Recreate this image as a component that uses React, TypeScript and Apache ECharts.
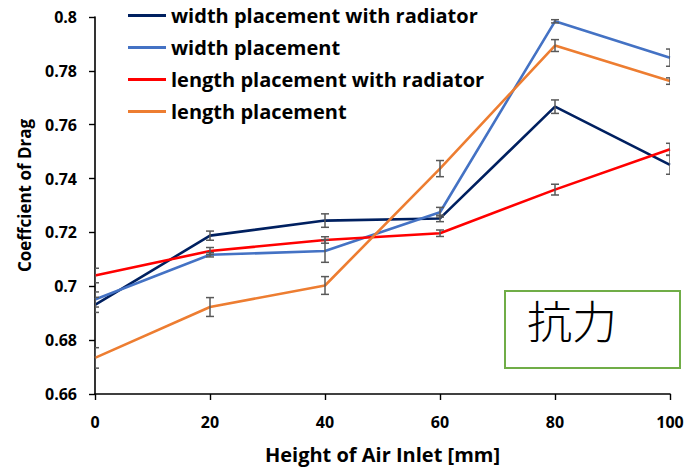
import React, { useEffect, useRef } from "react";
import * as echarts from "echarts";

const xValues = [0, 20, 40, 60, 80, 100];
const seriesNames = [
  "width placement with radiator",
  "width placement",
  "length placement with radiator",
  "length placement",
];
const widthRadiator = [0.6931, 0.7188, 0.7244, 0.7252, 0.7667, 0.7451];
const widthPlain = [0.6951, 0.7117, 0.7131, 0.7275, 0.7984, 0.7849];
const lengthRadiator = [0.704, 0.7131, 0.7172, 0.7197, 0.7359, 0.7509];
const lengthPlain = [0.6734, 0.6923, 0.7003, 0.7437, 0.7894, 0.7762];
const widthRadiatorErr = [0.0028, 0.0017, 0.0025, 0.0012, 0.0025, 0.0035];
const widthPlainErr = [0.0028, 0.0008, 0.0042, 0.0018, 0.0006, 0.0032];
const lengthRadiatorErr = [0.0027, 0.0013, 0.0012, 0.0012, 0.002, 0.0022];
const lengthPlainErr = [0.0038, 0.0035, 0.0033, 0.003, 0.0022, 0.0012];
const colors = ["#002060", "#4472C4", "#FF0000", "#ED7D31"];
const yTicks = [0.66, 0.8, 0.02];
const annotation = "抗力";

const FONT = "'Open Sans', sans-serif";

export default function App() {
  const ref = useRef<HTMLDivElement>(null);
  useEffect(() => {
    document.body.style.margin = "0";
    const chart = echarts.init(ref.current!, null, { renderer: "svg" });
    const values = [widthRadiator, widthPlain, lengthRadiator, lengthPlain];
    const errs = [widthRadiatorErr, widthPlainErr, lengthRadiatorErr, lengthPlainErr];
    const lineSeries = values.map((vals, i) => ({
      name: seriesNames[i],
      type: "line",
      data: xValues.map((x, j) => [x, vals[j]]),
      showSymbol: false,
      symbol: "none",
      lineStyle: { color: colors[i], width: 2.6 },
      itemStyle: { color: colors[i] },
      z: 2,
    }));
    const errSeries = values.map((vals, i) => ({
      name: seriesNames[i] + " err",
      type: "custom",
      clip: true,
      z: 3,
      data: xValues.map((x, j) => [x, vals[j] - errs[i][j], vals[j] + errs[i][j]]),
      renderItem: (params: any, api: any) => {
        const x = api.value(0);
        const lo = api.coord([x, api.value(1)]);
        const hi = api.coord([x, api.value(2)]);
        const cap = 4;
        const style = { stroke: "#595959", lineWidth: 1.5, fill: "none" };
        return {
          type: "group",
          children: [
            { type: "line", shape: { x1: lo[0], y1: lo[1], x2: hi[0], y2: hi[1] }, style },
            { type: "line", shape: { x1: lo[0] - cap, y1: lo[1], x2: lo[0] + cap, y2: lo[1] }, style },
            { type: "line", shape: { x1: hi[0] - cap, y1: hi[1], x2: hi[0] + cap, y2: hi[1] }, style },
          ],
        };
      },
    }));
    chart.setOption({
      animation: false,
      backgroundColor: "#fff",
      grid: { left: 95, right: 20, top: 17, bottom: 74, containLabel: false },
      legend: {
        data: seriesNames.map((n, i) => ({ name: n, itemStyle: { color: colors[i] } })),
        orient: "vertical",
        left: 128,
        top: 4,
        padding: 0,
        itemGap: 9,
        itemWidth: 38,
        itemHeight: 3,
        icon: "rect",
        textStyle: { fontFamily: FONT, fontWeight: "bold", fontSize: 20, color: "#000", lineHeight: 23, padding: [0, 0, 0, 0] },
      },
      xAxis: {
        type: "value",
        min: 0,
        max: 100,
        interval: 20,
        name: "Height of Air Inlet [mm]",
        nameLocation: "middle",
        nameGap: 50,
        nameTextStyle: { fontFamily: FONT, fontWeight: "bold", fontSize: 20, color: "#000" },
        axisLine: { lineStyle: { color: "#000", width: 1.6 } },
        axisTick: { show: true, length: 6, inside: false, lineStyle: { color: "#000", width: 1.4 } },
        axisLabel: { fontFamily: FONT, fontWeight: "bold", fontSize: 16, color: "#000", margin: 20 },
        splitLine: { show: false },
      },
      yAxis: {
        type: "value",
        min: yTicks[0],
        max: yTicks[1],
        interval: yTicks[2],
        name: "Coeffcient of Drag",
        nameLocation: "middle",
        nameGap: 62,
        nameTextStyle: { fontFamily: FONT, fontWeight: "bold", fontSize: 17, color: "#000", padding: [0, 0, 0, 20] },
        axisLine: { show: true, lineStyle: { color: "#000", width: 1.6 } },
        axisTick: { show: true, length: 6, inside: false, lineStyle: { color: "#000", width: 1.4 } },
        axisLabel: {
          fontFamily: FONT,
          fontWeight: "bold",
          fontSize: 16,
          color: "#000",
          margin: 18,
          formatter: (v: number) => String(parseFloat(v.toFixed(2))),
        },
        splitLine: { show: false },
      },
      graphic: [
        {
          type: "group",
          left: 504,
          top: 290,
          children: [
            {
              type: "rect",
              shape: { x: 0, y: 0, width: 175, height: 77 },
              style: { fill: "#fff", stroke: "#70AD47", lineWidth: 2 },
            },
            {
              type: "text",
              x: 22,
              y: 6,
              style: {
                text: annotation,
                font: "300 45px 'Noto Sans CJK JP', sans-serif",
                fill: "#000",
              },
            },
          ],
        },
      ],
      series: [...lineSeries, ...errSeries],
    });
    return () => chart.dispose();
  }, []);
  return <div ref={ref} style={{ width: 690, height: 469 }} />;
}
